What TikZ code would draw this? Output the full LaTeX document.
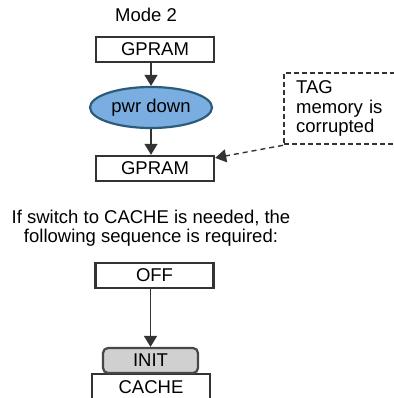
\documentclass[tikz,border=0pt]{standalone}
\usepackage{fontspec}
\setmainfont{Liberation Sans}
\usetikzlibrary{arrows.meta, shapes.geometric}

\definecolor{edge}{HTML}{333333}
\definecolor{pwrfill}{HTML}{7AAEE0}
\definecolor{pwrline}{HTML}{2D5B7A}
\definecolor{initfill}{HTML}{D0D0D0}

\begin{document}
\begin{tikzpicture}[
    x=1pt, y=-1pt,
    every node/.style={font=\fontsize{18.5}{19.5}\selectfont, text=black},
    box/.style={rectangle, draw=edge, line width=2.4pt, fill=white, minimum width=118pt, minimum height=25pt, inner sep=0pt},
    pwr/.style={ellipse, draw=pwrline, line width=2.2pt, fill=pwrfill, minimum width=122pt, minimum height=41pt, inner sep=0pt},
    initbox/.style={rectangle, rounded corners=5pt, draw=edge!90, line width=2.2pt, fill=initfill, minimum width=95pt, minimum height=25pt, inner sep=0pt},
    note/.style={rectangle, draw=edge, line width=2.3pt, dash pattern=on 5pt off 3pt, text width=120pt, align=left, inner xsep=12pt, inner ysep=0pt, minimum height=71pt, anchor=north west},
    arrow/.style={-{Triangle[width=13pt,length=11pt]}, line width=1.4pt, draw=edge},
    dasharrow/.style={-{Triangle[width=13pt,length=11pt]}, line width=1.4pt, draw=edge, dash pattern=on 5pt off 4pt}
]
\useasboundingbox (0,0) rectangle (393,398);

% --- Mode 2 ---
\node (mode) at (146,15) {Mode 2};
\node (gpramA) [box] at (155,49.5) {GPRAM};
\node (pwrdown) [pwr] at (151,107.5) {pwr down};
\node (gpramB) [box] at (155,168.5) {GPRAM};
\node (tagnote) [note] at (283,72) {TAG\\memory is\\corrupted};

% --- switch to CACHE ---
\node (hint) [align=center] at (151,228) {If switch to CACHE is needed, the\\following sequence is required:};
\node (off) [box] at (154.5,275.5) {OFF};
\node (cache) [box, minimum height=26pt] at (151,387) {CACHE};
\node (init) [initbox] at (150.5,360.5) {INIT};

% --- arrows ---
\draw [arrow] (gpramA.south -| pwrdown.north) -- (pwrdown.north);
\draw [arrow] (pwrdown.south) -- (pwrdown.south |- gpramB.north);
\draw [dasharrow] (tagnote.south west) -- (gpramB.10);
\draw [arrow] (off.south -| init.north) -- (init.north);

\end{tikzpicture}
\end{document}
